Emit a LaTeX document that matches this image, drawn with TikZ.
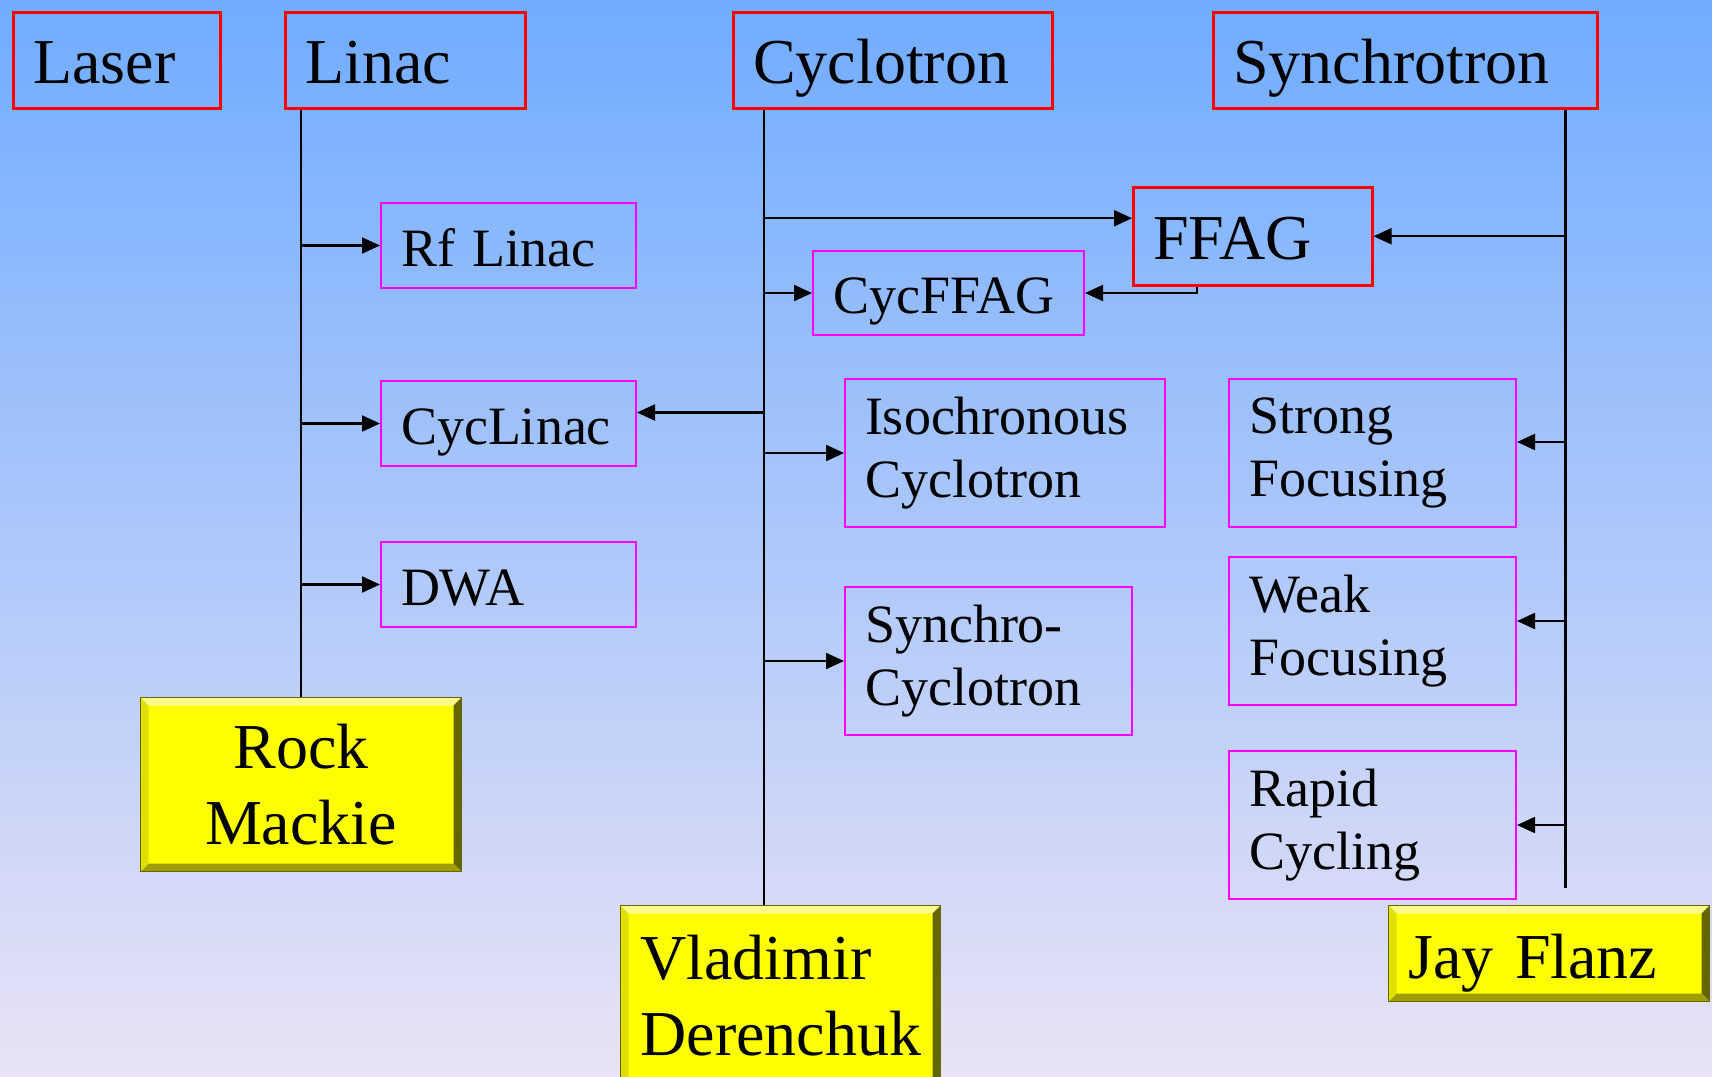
\documentclass[tikz,border=0pt]{standalone}
\usepackage{fontspec}
\setmainfont{Liberation Serif}[WordSpace=0.7]
\usetikzlibrary{arrows.meta,positioning}

\definecolor{skytop}{RGB}{112,172,255}
\definecolor{skymid}{RGB}{163,201,244}
\definecolor{skybottom}{RGB}{233,227,245}
\definecolor{kindedge}{RGB}{255,0,0}
\definecolor{itemedge}{RGB}{255,0,255}
\definecolor{namefill}{RGB}{255,255,0}
\newcommand\headfont{\fontsize{64}{76}\selectfont}
\newcommand\itemfont{\fontsize{54}{63}\selectfont}

\tikzset{
  kind/.style={draw=kindedge, line width=2.5pt, anchor=north west, minimum height=96pt,
    inner xsep=20pt, inner ysep=0pt, align=left, font=\headfont, text height=46pt, text depth=0pt},
  variant/.style={draw=itemedge, line width=2pt, anchor=north west,
    inner xsep=20pt, inner ysep=0pt, align=left, font=\itemfont},
  oneline/.style={text height=41pt, text depth=0pt},
  person/.style={fill=namefill, draw=namefill!40!black, line width=1pt, anchor=north west,
    inner xsep=20pt, inner ysep=0pt, align=left, font=\headfont,
    path picture={
      \fill[namefill!45!white] (path picture bounding box.north west) -- (path picture bounding box.north east)
        -- ([xshift=-8pt,yshift=-8pt]path picture bounding box.north east) -- ([xshift=8pt,yshift=-8pt]path picture bounding box.north west) -- cycle;
      \fill[namefill!40!black] (path picture bounding box.north east) -- (path picture bounding box.south east)
        -- ([xshift=-8pt,yshift=8pt]path picture bounding box.south east) -- ([xshift=-8pt,yshift=-8pt]path picture bounding box.north east) -- cycle;
      \fill[namefill!62!black] (path picture bounding box.south east) -- (path picture bounding box.south west)
        -- ([xshift=8pt,yshift=8pt]path picture bounding box.south west) -- ([xshift=-8pt,yshift=8pt]path picture bounding box.south east) -- cycle;
      \fill[namefill!88!black] (path picture bounding box.south west) -- (path picture bounding box.north west)
        -- ([xshift=8pt,yshift=-8pt]path picture bounding box.north west) -- ([xshift=8pt,yshift=8pt]path picture bounding box.south west) -- cycle;
    }},
  trunk/.style={line width=2.2pt},
  branch/.style={line width=2.2pt, -{Triangle[length=18pt,width=16pt]}},
}

\begin{document}
\begin{tikzpicture}[x=1pt, y=-1pt]
  \useasboundingbox (0,0) rectangle (1712,1076);
  \clip (0,0) rectangle (1712,1076);
  \shade[top color=skytop, middle color=skymid, bottom color=skybottom] (0,0) rectangle (1712,1076);

  % accelerator kinds
  \node[kind, text width=167pt] (laser) at (12,11) {Laser};
  \node[kind, text width=200pt] (linac) at (284,11) {Linac};
  \node[kind, text width=279pt] (cyclotron) at (732,11) {Cyclotron};
  \node[kind, text width=344pt] (synchrotron) at (1212,11) {Synchrotron};
  \node[kind, text width=199pt, minimum height=98pt] (ffag) at (1132,186) {FFAG};

  % linac family
  \node[variant, oneline, text width=215pt, minimum height=85pt] (rflinac) at (380,202) {Rf Linac};
  \node[variant, oneline, text width=215pt, minimum height=85pt, below=91pt of rflinac] (cyclinac) {CycLinac};
  \node[variant, oneline, text width=215pt, minimum height=85pt, below=74pt of cyclinac] (dwa) {DWA};

  % cyclotron family
  \node[variant, oneline, text width=231pt, minimum height=84pt] (cycffag) at (812,250) {CycFFAG};
  \node[variant, text width=280pt, minimum height=148pt] (isochronous) at (844,378) {Isochronous\\Cyclotron};
  \node[variant, text width=247pt, minimum height=148pt] (synchrocyc) at (844,586) {Synchro-\\Cyclotron};

  % synchrotron family
  \node[variant, text width=247pt, minimum height=148pt] (strong) at (1228,378) {Strong\\Focusing};
  \node[variant, text width=247pt, minimum height=148pt, below=28pt of strong] (weak) {Weak\\Focusing};
  \node[variant, text width=247pt, minimum height=148pt, below=44pt of weak] (rapid) {Rapid\\Cycling};

  % people
  \node[person, text width=281pt, minimum height=174pt, align=center] (mackie) at (140,697) {Rock\\Mackie};
  \node[person, text width=280pt, minimum height=180pt] (derenchuk) at (620,905) {Vladimir\\Derenchuk};
  \node[person, text width=281pt, minimum height=96pt, text height=50pt, text depth=0pt] (flanz) at (1388,905) {Jay Flanz};

  % linac tree
  \draw[trunk] (linac.south -| mackie.north) -- (mackie.north);
  \draw[branch] (rflinac.west -| mackie.north) -- (rflinac.west);
  \draw[branch] (cyclinac.west -| mackie.north) -- (cyclinac.west);
  \draw[branch] (dwa.west -| mackie.north) -- (dwa.west);

  % cyclotron tree
  \coordinate (cycroot) at ([xshift=32pt]cyclotron.south west);
  \draw[trunk] (cycroot) -- (cycroot |- derenchuk.north);
  \draw[branch] ([yshift=18pt]ffag.west -| cycroot) -- ([yshift=18pt]ffag.west);
  \draw[branch] (cycffag.west -| cycroot) -- (cycffag.west);
  \draw[branch] ([yshift=11pt]cyclinac.east -| cycroot) -- ([yshift=11pt]cyclinac.east);
  \draw[branch] (isochronous.west -| cycroot) -- (isochronous.west);
  \draw[branch] (synchrocyc.west -| cycroot) -- (synchrocyc.west);
  \draw[branch] ([xshift=-56pt]ffag.south) |- (cycffag.east);

  % synchrotron tree
  \coordinate (synroot) at ([xshift=-33pt]synchrotron.south east);
  \draw[trunk] (synroot) -- ([yshift=17pt]flanz.north -| synroot);
  \draw[branch] (ffag.east -| synroot) -- (ffag.east);
  \draw[branch] ([yshift=11pt]strong.east -| synroot) -- ([yshift=11pt]strong.east);
  \draw[branch] ([yshift=10pt]weak.east -| synroot) -- ([yshift=10pt]weak.east);
  \draw[branch] (rapid.east -| synroot) -- (rapid.east);
\end{tikzpicture}
\end{document}
